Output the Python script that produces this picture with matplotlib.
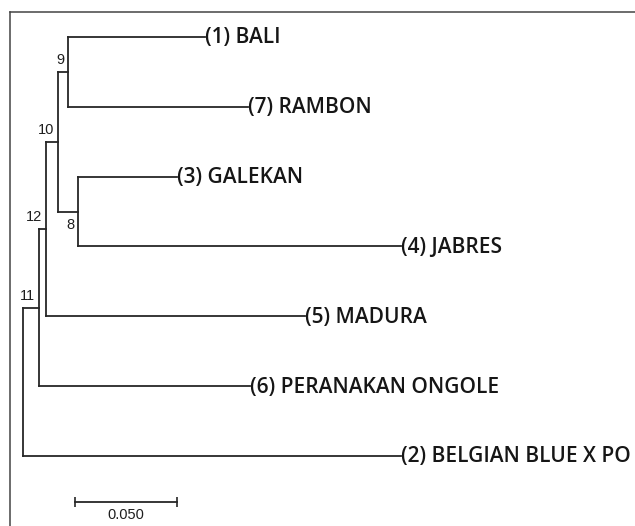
import matplotlib
matplotlib.use('Agg')
import matplotlib.pyplot as plt
from matplotlib.lines import Line2D

# leaves, top to bottom
leaf_names = ['(1) BALI', '(7) RAMBON', '(3) GALEKAN', '(4) JABRES',
              '(5) MADURA', '(6) PERANAKAN ONGOLE', '(2) BELGIAN BLUE X PO']
leaf_parent = [9, 9, 8, 8, 12, 11, 0]
leaf_length = [0.0672, 0.0883, 0.0485, 0.1587, 0.1275, 0.1035, 0.1857]

# internal nodes (0 = root), parents listed before children
node_ids = [11, 12, 10, 9, 8]
node_parent = [0, 11, 12, 10, 10]
node_length = [0.0079, 0.0031, 0.0062, 0.0049, 0.0098]

scale_value = 0.05
scale_label = '0.050'

# depths
depth = {0: 0.0}
for nid, par, bl in zip(node_ids, node_parent, node_length):
    depth[nid] = depth[par] + bl
leaf_depth = [depth[p] + bl for p, bl in zip(leaf_parent, leaf_length)]

# children: list of (y, depth, node id or None)
children = {n: [] for n in [0] + node_ids}
for i, p in enumerate(leaf_parent):
    children[p].append([float(i), leaf_depth[i], None])
for nid, par in zip(node_ids, node_parent):
    children[par].append([None, depth[nid], nid])

ypos = {}
def get_y(n):
    if n in ypos:
        return ypos[n]
    ys = []
    for c in children[n]:
        if c[2] is not None:
            c[0] = get_y(c[2])
        ys.append(c[0])
    ypos[n] = (min(ys) + max(ys)) / 2
    return ypos[n]
get_y(0)

fig = plt.figure(figsize=(6.35, 5.26), dpi=100)
ax = fig.add_axes([0, 0, 1, 1])
ax.axis('off')
pxu = 2034.0
x0 = 23.3
ysp = 69.83
y0 = 37.0
ax.set_xlim(-x0 / pxu, (635 - x0) / pxu)
ax.set_ylim((526 - y0) / ysp, -y0 / ysp)

lc = '#262626'
lw = 1.3
for n in [0] + node_ids:
    ch = sorted(children[n], key=lambda c: c[0])
    ys = [c[0] for c in ch]
    ax.plot([depth[n], depth[n]], [min(ys), max(ys)], color=lc, lw=lw,
            solid_capstyle='projecting')
    for k, c in enumerate(ch):
        ax.plot([depth[n], c[1]], [c[0], c[0]], color=lc, lw=lw,
                solid_capstyle='projecting')
        if c[2] is not None:
            above = k == 0
            ax.annotate(str(c[2]), (c[1], c[0]), xytext=(-4, 5 if above else -6),
                        textcoords='offset pixels', ha='right',
                        va='bottom' if above else 'top',
                        fontsize=10.5, family='Liberation Sans', color='#1e1e1e')

for i, name in enumerate(leaf_names):
    ax.annotate(name, (leaf_depth[i], i), xytext=(0, -1), textcoords='offset pixels',
                ha='left', va='center', fontsize=15, family='Open Sans',
                fontweight='semibold', color='#161616')

# scale bar
sx = (75 - x0) / pxu
sy = (501.7 - y0) / ysp
ax.plot([sx, sx + scale_value], [sy, sy], color=lc, lw=lw)
ax.plot([sx, sx + scale_value], [sy, sy], ls='none', marker='|', ms=7.5,
        mew=1.2, color=lc)
ax.annotate(scale_label, (sx + scale_value / 2, sy), xytext=(0, -6),
            textcoords='offset pixels', ha='center', va='top',
            fontsize=10.5, family='Liberation Sans', color='#1e1e1e')

# frame
fig.add_artist(Line2D([10 / 635, 1], [1 - 12 / 526] * 2, transform=fig.transFigure,
                      color='#444444', lw=1.1))
fig.add_artist(Line2D([10 / 635] * 2, [0, 1 - 12 / 526], transform=fig.transFigure,
                      color='#444444', lw=1.1))

fig.savefig('out.png', dpi=100)
